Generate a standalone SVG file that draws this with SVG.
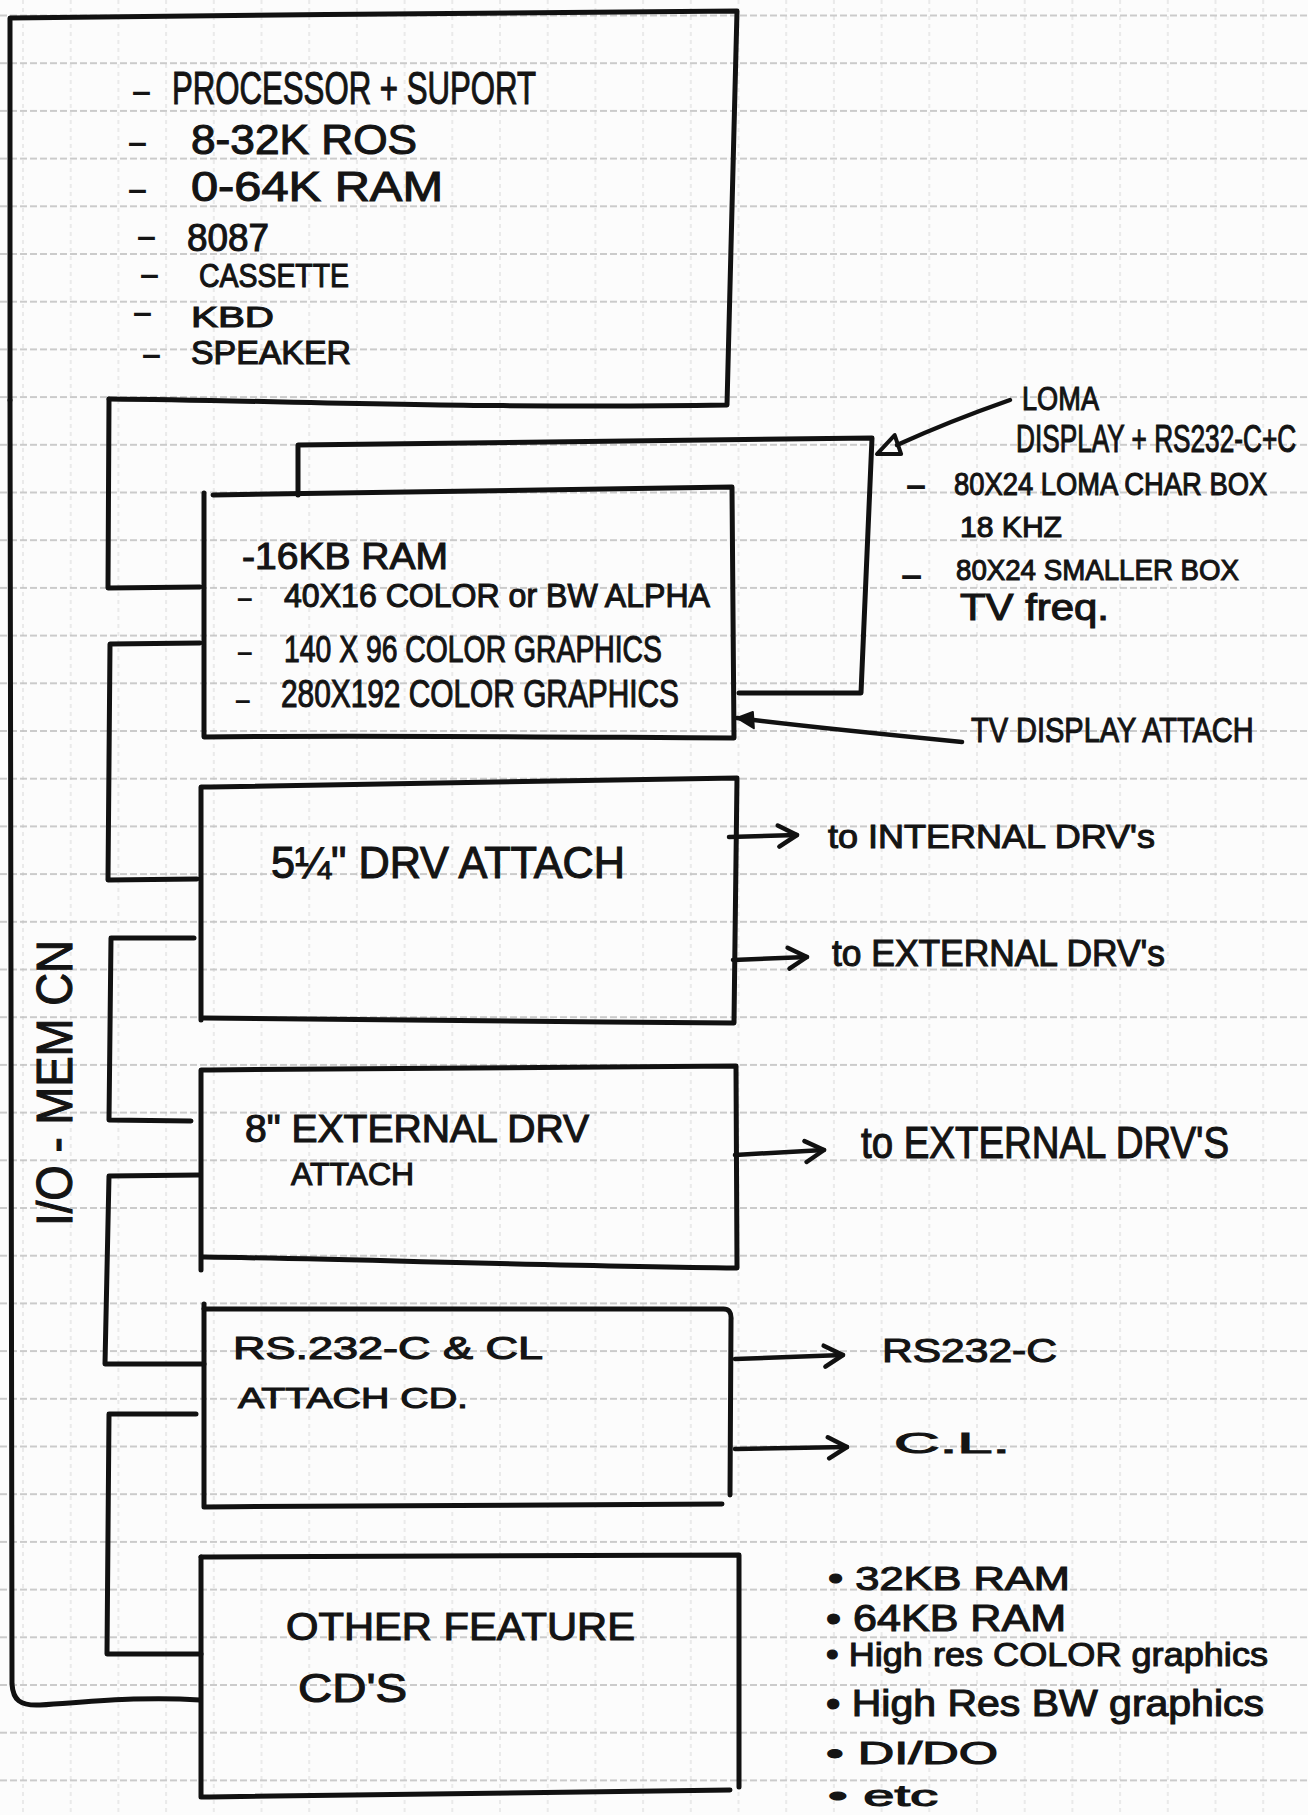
<svg xmlns="http://www.w3.org/2000/svg" width="1308" height="1815" viewBox="0 0 1308 1815">
<style>
.ln{fill:none;stroke:#111;stroke-width:5;stroke-linecap:round;stroke-linejoin:round}
.ar{fill:none;stroke:#111;stroke-width:4.5;stroke-linecap:round}
.hw{font-family:"Liberation Sans",Arial,sans-serif;fill:#141414;stroke:#141414;stroke-width:1.1}
.dash{font-family:"Liberation Sans",Arial,sans-serif;font-weight:bold;fill:#141414}
</style>
<defs>
<pattern id="gh" patternUnits="userSpaceOnUse" x="0" y="-8.35" width="1308" height="47.7">
<line x1="0" y1="23.85" x2="1308" y2="23.85" stroke="#bcbcbc" stroke-width="1.3" stroke-dasharray="7 3"/>
</pattern>
<pattern id="gv" patternUnits="userSpaceOnUse" x="-0.85" y="0" width="47.7" height="1815">
<line x1="23.85" y1="0" x2="23.85" y2="1815" stroke="#d8d8d8" stroke-width="1" stroke-dasharray="4 4"/>
</pattern>
<marker id="chev" viewBox="-26 -14 30 28" refX="0" refY="0" markerWidth="30" markerHeight="28" markerUnits="userSpaceOnUse" orient="auto">
<path d="M-19,-10 L0,0 L-18,11" fill="none" stroke="#111" stroke-width="4.5" stroke-linecap="round" stroke-linejoin="round"/>
</marker>
<marker id="tri" viewBox="-30 -15 34 30" refX="-22" refY="0" markerWidth="34" markerHeight="30" markerUnits="userSpaceOnUse" orient="auto">
<path d="M0,0 L-22,-10 L-24,10 Z" fill="none" stroke="#111" stroke-width="4" stroke-linejoin="round"/>
</marker>
<marker id="fil" viewBox="-22 -12 26 24" refX="0" refY="0" markerWidth="26" markerHeight="24" markerUnits="userSpaceOnUse" orient="auto">
<path d="M0,0 L-18,-8 L-15,8 Z" fill="#111" stroke="#111" stroke-width="2" stroke-linejoin="round"/>
</marker>
</defs>
<rect width="1308" height="1815" fill="#fcfcfc"/>
<rect width="1308" height="1815" fill="url(#gv)"/>
<rect width="1308" height="1815" fill="url(#gh)"/>

<g id="connectors">
<path class="ln" d="M10,400 L11,1000 L12,1684 C13,1700 20,1706 40,1705 C90,1702 140,1696 200,1700"/>
<path class="ln" d="M109,399 L108,588 L200,587"/>
<path class="ln" d="M200,643 L110,644 L108,880 L197,879"/>
<path class="ln" d="M194,938 L111,938 L109,1120 L191,1121"/>
<path class="ln" d="M199,1175 L109,1176 L105,1364 L204,1364"/>
<path class="ln" d="M196,1414 L109,1414 L107,1654 L201,1654"/>
<path class="ar" d="M729,837 L797,835" marker-end="url(#chev)"/>
<path class="ar" d="M733,960 L807,957" marker-end="url(#chev)"/>
<path class="ar" d="M735,1155 L824,1150" marker-end="url(#chev)"/>
<path class="ar" d="M735,1359 L843,1355" marker-end="url(#chev)"/>
<path class="ar" d="M735,1449 L847,1447" marker-end="url(#chev)"/>
<path class="ar" d="M1010,400 C970,414 930,430 897,445" marker-end="url(#tri)"/>
<path class="ar" d="M962,742 C880,734 800,726 737,718" marker-end="url(#fil)"/>
</g>

<g id="n-system">
<path class="ln" d="M10,400 L10,18 C250,15 500,13 737,11 L727,405 C500,409 300,401 109,399"/>
<text class="dash" x="132" y="102" font-size="34">–</text>
<text class="hw" x="172" y="104" font-size="46" textLength="364" lengthAdjust="spacingAndGlyphs">PROCESSOR + SUPORT</text>
<text class="dash" x="128" y="153" font-size="34">–</text>
<text class="hw" x="191" y="154" font-size="42" textLength="226" lengthAdjust="spacingAndGlyphs">8-32K ROS</text>
<text class="dash" x="128" y="200" font-size="34">–</text>
<text class="hw" x="191" y="201" font-size="42" textLength="252" lengthAdjust="spacingAndGlyphs">0-64K RAM</text>
<text class="dash" x="137" y="247" font-size="34">–</text>
<text class="hw" x="187" y="251" font-size="38" textLength="82" lengthAdjust="spacingAndGlyphs">8087</text>
<text class="dash" x="140" y="285" font-size="34">–</text>
<text class="hw" x="199" y="287" font-size="33" textLength="150" lengthAdjust="spacingAndGlyphs">CASSETTE</text>
<text class="dash" x="133" y="323" font-size="34">–</text>
<text class="hw" x="191" y="327" font-size="30" textLength="83" lengthAdjust="spacingAndGlyphs">KBD</text>
<text class="dash" x="142" y="365" font-size="34">–</text>
<text class="hw" x="191" y="364" font-size="33" textLength="160" lengthAdjust="spacingAndGlyphs">SPEAKER</text>
</g>

<g id="n-loma">
<path class="ln" d="M298,495 L298,445 C500,442 700,440 872,438 L861,693 L739,693"/>
<text class="hw" x="1022" y="410" font-size="34" textLength="77" lengthAdjust="spacingAndGlyphs">LOMA</text>
<text class="hw" transform="translate(1016,452) scale(0.69,1)" font-size="38">DISPLAY + RS232-C+C</text>
<text class="dash" x="906" y="497" font-size="36">–</text>
<text class="hw" transform="translate(954,495) scale(0.855,1)" font-size="32">80X24 LOMA CHAR BOX</text>
<text class="hw" x="960" y="537" font-size="30" textLength="102" lengthAdjust="spacingAndGlyphs">18 KHZ</text>
<text class="dash" x="901" y="588" font-size="38">–</text>
<text class="hw" x="956" y="580" font-size="30" textLength="283" lengthAdjust="spacingAndGlyphs">80X24 SMALLER BOX</text>
<text class="hw" x="960" y="620" font-size="36" textLength="149" lengthAdjust="spacingAndGlyphs">TV freq.</text>
</g>

<g id="n-tv">
<path class="ln" d="M213,495 C400,492 600,489 732,487 L734,738 C550,737 350,735 204,737 L204,493"/>
<text class="hw" x="242" y="569" font-size="36" textLength="206" lengthAdjust="spacingAndGlyphs">-16KB RAM</text>
<text class="dash" x="237" y="607" font-size="28">–</text>
<text class="hw" x="284" y="607" font-size="33" textLength="426" lengthAdjust="spacingAndGlyphs">40X16 COLOR or BW ALPHA</text>
<text class="dash" x="237" y="661" font-size="28">–</text>
<text class="hw" x="284" y="662" font-size="37" textLength="378" lengthAdjust="spacingAndGlyphs">140 X 96 COLOR GRAPHICS</text>
<text class="dash" x="235" y="709" font-size="28">–</text>
<text class="hw" x="281" y="707" font-size="38" textLength="398" lengthAdjust="spacingAndGlyphs">280X192 COLOR GRAPHICS</text>
<text class="hw" transform="translate(971,742) scale(0.805,1)" font-size="36">TV DISPLAY ATTACH</text>
</g>

<g id="n-drv">
<path class="ln" d="M201,1020 L201,787 C400,785 600,781 737,778 L734,1023 C550,1022 350,1018 204,1018"/>
<text class="hw" x="271" y="878" font-size="44" textLength="354" lengthAdjust="spacingAndGlyphs">5¼" DRV ATTACH</text>
<text class="hw" x="828" y="848" font-size="34" textLength="327" lengthAdjust="spacingAndGlyphs">to INTERNAL DRV's</text>
<text class="hw" x="832" y="966" font-size="36" textLength="333" lengthAdjust="spacingAndGlyphs">to EXTERNAL DRV's</text>
</g>

<g id="n-ext8">
<path class="ln" d="M201,1270 L201,1070 C400,1069 600,1067 736,1066 L737,1268 C550,1266 350,1259 204,1257"/>
<text class="hw" x="245" y="1142" font-size="38" textLength="344" lengthAdjust="spacingAndGlyphs">8" EXTERNAL DRV</text>
<text class="hw" x="291" y="1185" font-size="32" textLength="123" lengthAdjust="spacingAndGlyphs">ATTACH</text>
<text class="hw" x="861" y="1158" font-size="44" textLength="368" lengthAdjust="spacingAndGlyphs">to EXTERNAL DRV'S</text>
</g>

<g id="n-rs232">
<path class="ln" d="M204,1304 L204,1507 C400,1505 600,1504 722,1504"/>
<path class="ln" d="M204,1309 C400,1309 600,1310 722,1309 Q732,1308 731,1320 L730,1495"/>
<text class="hw" x="233" y="1359" font-size="32" textLength="310" lengthAdjust="spacingAndGlyphs">RS.232-C &amp; CL</text>
<text class="hw" x="238" y="1408" font-size="30" textLength="230" lengthAdjust="spacingAndGlyphs">ATTACH CD.</text>
<text class="hw" x="882" y="1362" font-size="34" textLength="175" lengthAdjust="spacingAndGlyphs">RS232-C</text>
<text class="hw" x="894" y="1453" font-size="30" textLength="116" lengthAdjust="spacingAndGlyphs">C.L.</text>
</g>

<g id="n-other">
<path class="ln" d="M201,1557 C400,1556 600,1555 739,1555 L739,1787"/>
<path class="ln" d="M201,1557 L201,1797 C400,1795 600,1792 730,1790"/>
<text class="hw" x="286" y="1640" font-size="38" textLength="349" lengthAdjust="spacingAndGlyphs">OTHER FEATURE</text>
<text class="hw" x="298" y="1702" font-size="40" textLength="109" lengthAdjust="spacingAndGlyphs">CD'S</text>
<text class="hw" x="828" y="1590" font-size="34" textLength="242" lengthAdjust="spacingAndGlyphs">• 32KB RAM</text>
<text class="hw" x="826" y="1631" font-size="36" textLength="240" lengthAdjust="spacingAndGlyphs">• 64KB RAM</text>
<text class="hw" x="826" y="1666" font-size="34" textLength="442" lengthAdjust="spacingAndGlyphs">• High res COLOR graphics</text>
<text class="hw" x="826" y="1716" font-size="36" textLength="438" lengthAdjust="spacingAndGlyphs">• High Res BW graphics</text>
<text class="hw" x="826" y="1764" font-size="32" textLength="172" lengthAdjust="spacingAndGlyphs">• DI/DO</text>
<text class="hw" x="828" y="1806" font-size="30" textLength="110" lengthAdjust="spacingAndGlyphs">• etc</text>
</g>

<g id="n-bus-label">
<text class="hw" transform="translate(72,1226) rotate(-90)" x="0" y="0" font-size="50" textLength="286" lengthAdjust="spacingAndGlyphs">I/O - MEM CN</text>
</g>
</svg>
